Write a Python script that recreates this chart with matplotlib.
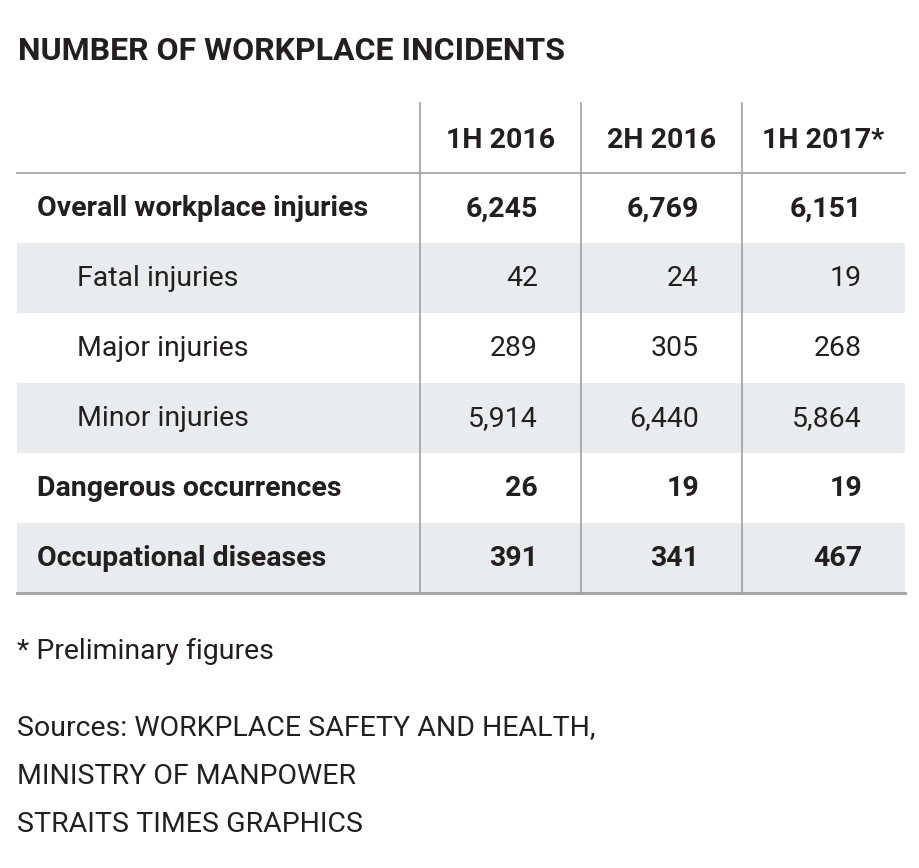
import matplotlib.pyplot as plt
from matplotlib.patches import Rectangle

plt.rcParams['font.family'] = ['Roboto', 'DejaVu Sans']

title = "NUMBER OF WORKPLACE INCIDENTS"
columns = ["1H 2016", "2H 2016", "1H 2017*"]
row_labels = ["Overall workplace injuries", "Fatal injuries", "Major injuries",
              "Minor injuries", "Dangerous occurrences", "Occupational diseases"]
row_bold = [True, False, False, False, True, True]
values = [["6,245", "6,769", "6,151"],
          ["42", "24", "19"],
          ["289", "305", "268"],
          ["5,914", "6,440", "5,864"],
          ["26", "19", "19"],
          ["391", "341", "467"]]
footnote = "* Preliminary figures"
sources = ["Sources: WORKPLACE SAFETY AND HEALTH,", "MINISTRY OF MANPOWER",
           "STRAITS TIMES GRAPHICS"]

W, H = 920, 868
fig = plt.figure(figsize=(W / 100, H / 100), dpi=100)
ax = fig.add_axes([0, 0, 1, 1])
ax.set_xlim(0, W)
ax.set_ylim(H, 0)
ax.axis('off')

txt = '#231f20'
grey = '#e8ecee'
line = '#a0a0a0'
fs = 20.5

ax.text(18, 51, title, fontsize=23, fontweight='bold', color=txt, va='center', ha='left')

col_edges = [420, 581, 742, 905]
for i, c in enumerate(columns):
    ax.text((col_edges[i] + col_edges[i + 1]) / 2, 141, c, fontsize=fs, fontweight='bold',
            color=txt, ha='center', va='center')

top = 173
rh = 70
for r, lab in enumerate(row_labels):
    y0 = top + r * rh
    if r % 2 == 1:
        ax.add_patch(Rectangle((17, y0), 888, rh, color=grey, zorder=0, lw=0))
    yc = y0 + rh / 2 + 1
    ax.text(37 if row_bold[r] else 77, yc, lab, fontsize=fs,
            fontweight='bold' if row_bold[r] else 'normal', color=txt, va='center', ha='left')
    for j, v in enumerate(values[r]):
        ax.text(col_edges[j + 1] - 43, yc, v, fontsize=fs,
                fontweight='bold' if row_bold[r] else 'normal', color=txt, va='center', ha='right')

bottom = top + rh * len(row_labels)
ax.plot([17, 905], [top, top], color=line, lw=1.2)
ax.plot([17, 905], [bottom, bottom], color=line, lw=2)
for x in col_edges[:3]:
    ax.plot([x, x], [103, bottom], color=line, lw=1.2)

ax.text(17, 651, footnote, fontsize=fs, color=txt, va='center', ha='left')
for k, s in enumerate(sources):
    ax.text(17, 728 + 48 * k, s, fontsize=fs, color=txt, va='center', ha='left')

fig.savefig('out.png', dpi=100, facecolor='white')
